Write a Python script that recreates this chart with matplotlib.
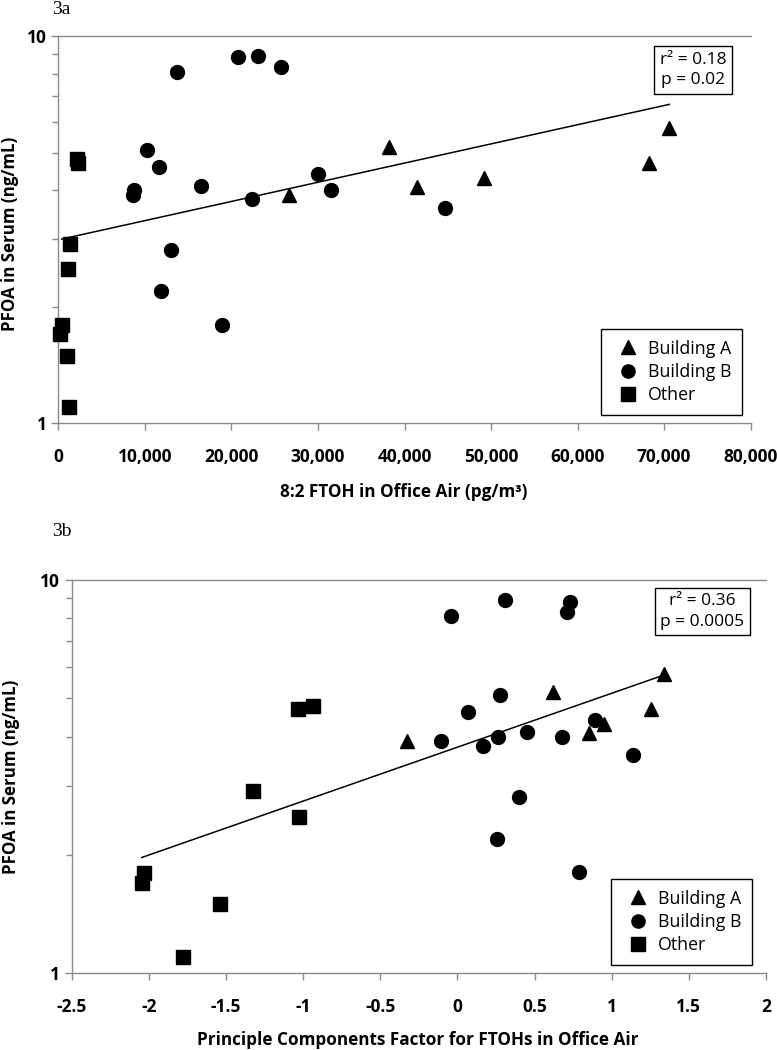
import matplotlib
matplotlib.use("Agg")
import matplotlib.pyplot as plt
from matplotlib.ticker import FixedLocator, FuncFormatter, NullFormatter, LogLocator
from matplotlib.lines import Line2D

# ---------------- data (panel 3a) ----------------
a_bldA_x = [26700, 38240, 41480, 49220, 68290, 70600]
a_bldA_y = [3.89, 5.18, 4.08, 4.29, 4.69, 5.78]
a_bldB_x = [13680, 20730, 23040, 25730, 10210, 11670, 8780, 8590, 16490, 22340,
            30040, 31500, 12980, 11830, 18880, 44680]
a_bldB_y = [8.09, 8.81, 8.90, 8.30, 5.08, 4.60, 4.00, 3.89, 4.10, 3.80,
            4.40, 4.00, 2.80, 2.20, 1.79, 3.59]
a_other_x = [2120, 2240, 1350, 1080, 460, 200, 970, 1270]
a_other_y = [4.80, 4.69, 2.90, 2.50, 1.79, 1.70, 1.49, 1.10]
a_fit_x = [390, 70600]
a_fit_y = [2.99, 6.66]
a_stats = "r\u00b2 = 0.18\np = 0.02"
a_xticks = [0, 10000, 20000, 30000, 40000, 50000, 60000, 70000, 80000]

# ---------------- data (panel 3b) ----------------
b_bldA_x = [-0.325, 0.617, 0.855, 0.952, 1.252, 1.339]
b_bldA_y = [3.90, 5.20, 4.09, 4.30, 4.69, 5.77]
b_bldB_x = [-0.041, 0.308, 0.730, 0.710, 0.276, 0.067, -0.106, 0.168, 0.265, 0.449,
            0.676, 0.892, 1.140, 0.401, 0.259, 0.790]
b_bldB_y = [8.10, 8.90, 8.79, 8.29, 5.10, 4.61, 3.90, 3.79, 4.00, 4.10,
            4.00, 4.41, 3.60, 2.80, 2.20, 1.81]
b_other_x = [-1.035, -0.934, -1.327, -1.025, -2.031, -2.046, -1.539, -1.780]
b_other_y = [4.70, 4.79, 2.90, 2.50, 1.80, 1.70, 1.50, 1.10]
b_fit_x = [-2.046, 1.309]
b_fit_y = [1.97, 5.68]
b_stats = "r\u00b2 = 0.36\np = 0.0005"
b_xticks = [-2.5, -2, -1.5, -1, -0.5, 0, 0.5, 1, 1.5, 2]

series_names = ["Building A", "Building B", "Other"]
markers = ["^", "o", "s"]

FONT = ["Open Sans", "DejaVu Sans"]
plt.rcParams["font.family"] = FONT
GRAY = "#8a8a8a"

fig = plt.figure(figsize=(7.77, 10.5), dpi=100)
W, H = 777.0, 1050.0


def make_axes(l, t, r, b):
    return fig.add_axes([l / W, 1 - b / H, (r - l) / W, (b - t) / H])


def style_axes(ax, xlim, xticks, xfmt, xlabel, ylab_xy, xlab_xy):
    ax.set_yscale("log")
    ax.set_ylim(1, 10)
    ax.set_xlim(*xlim)
    ax.yaxis.set_major_locator(FixedLocator([1, 10]))
    ax.yaxis.set_major_formatter(FuncFormatter(lambda v, p: "%d" % round(v)))
    ax.yaxis.set_minor_locator(LogLocator(base=10, subs=range(2, 10)))
    ax.yaxis.set_minor_formatter(NullFormatter())
    ax.xaxis.set_major_locator(FixedLocator(xticks))
    ax.xaxis.set_major_formatter(FuncFormatter(xfmt))
    for s in ["left", "bottom", "top"]:
        ax.spines[s].set_color(GRAY)
        ax.spines[s].set_linewidth(1.0)
    ax.spines["right"].set_visible(False)
    ax.tick_params(axis="both", which="both", direction="out", color=GRAY, width=1.0)
    ax.tick_params(axis="both", which="major", length=5, labelsize=12.5)
    ax.tick_params(axis="y", which="minor", length=4)
    ax.tick_params(axis="x", pad=13)
    for lab in ax.get_xticklabels() + ax.get_yticklabels():
        lab.set_fontweight("bold")
    ax.set_ylabel("PFOA in Serum (ng/mL)", fontsize=12.2, fontweight="bold", va="center")
    ax.set_xlabel(xlabel, fontsize=12.3, fontweight="bold", va="center")
    bb = ax.get_position()
    # label positions given in figure pixels, converted to axes fraction
    ax.yaxis.set_label_coords((ylab_xy[0] / W - bb.x0) / bb.width,
                              ((1 - ylab_xy[1] / H) - bb.y0) / bb.height)
    ax.xaxis.set_label_coords((xlab_xy[0] / W - bb.x0) / bb.width,
                              ((1 - xlab_xy[1] / H) - bb.y0) / bb.height)


def draw(ax, data, fit_x, fit_y, stats, stats_xy, leg_anchor):
    for (xs, ys), m in zip(data, markers):
        ax.plot(xs, ys, linestyle="none", marker=m, color="black", markersize=10,
                clip_on=False, zorder=3)
    ax.plot(fit_x, fit_y, color="black", linewidth=1.1, zorder=2)
    ax.text(stats_xy[0], stats_xy[1], stats, transform=ax.transAxes, ha="center",
            va="center", multialignment="center", fontsize=12.5, linespacing=1.35,
            bbox=dict(boxstyle="square,pad=0.33", facecolor="white", edgecolor="black",
                      linewidth=1.0))
    handles = [Line2D([], [], linestyle="none", marker=m, color="black", markersize=9.5)
               for m in markers]
    leg = ax.legend(handles, series_names, loc="lower right", bbox_to_anchor=leg_anchor,
                    borderaxespad=0, fancybox=False, framealpha=1, edgecolor="black",
                    fontsize=12.8, handletextpad=0.15, labelspacing=0.3,
                    borderpad=0.6, handlelength=1.9)
    leg.get_frame().set_linewidth(1.0)


# ---------------- panel a ----------------
axa = make_axes(58.3, 36, 750.7, 423.3)
draw(axa, [(a_bldA_x, a_bldA_y), (a_bldB_x, a_bldB_y), (a_other_x, a_other_y)],
     a_fit_x, a_fit_y, a_stats, (0.917, 0.912), (0.9875, 0.0214))
style_axes(axa, (0, 80000), a_xticks, lambda v, p: "{:,.0f}".format(v),
           "8:2 FTOH in Office Air (pg/m\u00b3)", (10, 234), (404, 492))

# ---------------- panel b ----------------
axb = make_axes(71.7, 580, 766, 973.3)
draw(axb, [(b_bldA_x, b_bldA_y), (b_bldB_x, b_bldB_y), (b_other_x, b_other_y)],
     b_fit_x, b_fit_y, b_stats, (0.9085, 0.92), (0.98, 0.021))
style_axes(axb, (-2.5, 2), b_xticks, lambda v, p: "%g" % v,
           "Principle Components Factor for FTOHs in Office Air", (11, 777), (418, 1040))

# panel labels
fig.text(52 / W, 1 - 10 / H, "3a", family=["Liberation Serif", "DejaVu Serif"],
         fontsize=14, ha="left", va="center")
fig.text(52 / W, 1 - 531 / H, "3b", family=["Liberation Serif", "DejaVu Serif"],
         fontsize=14, ha="left", va="center")

fig.savefig("out.png", dpi=100)
